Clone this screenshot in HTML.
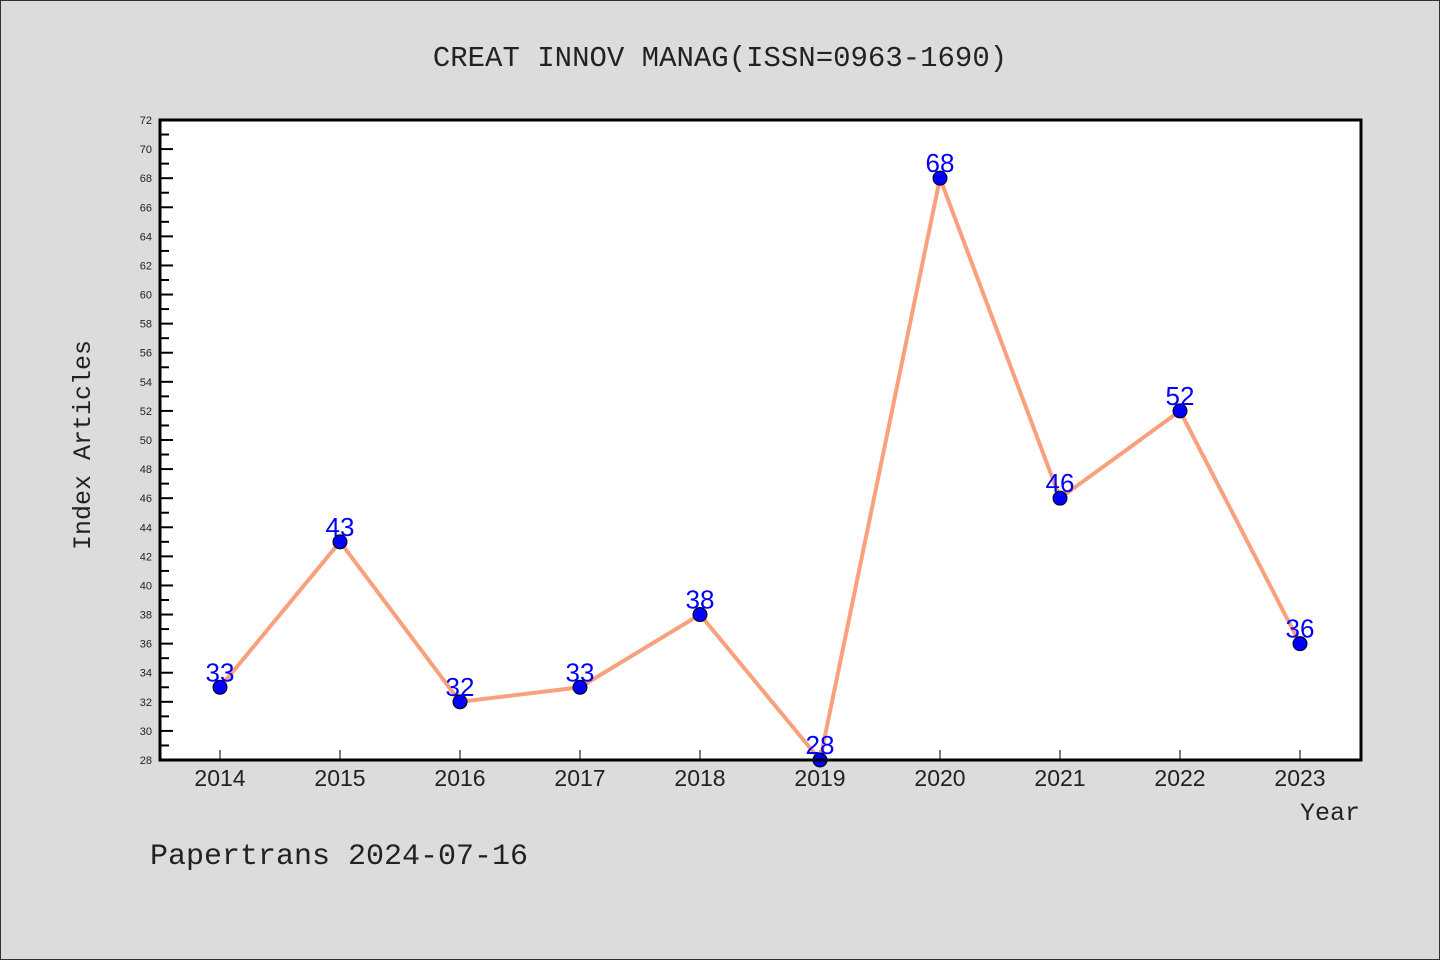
<!DOCTYPE html>
<html><head><meta charset="utf-8"><style>
html,body{margin:0;padding:0;background:#dcdcdc;}
svg{display:block;}
</style></head><body>
<svg id="chart" width="1440" height="960" xmlns="http://www.w3.org/2000/svg" font-family="'Liberation Sans','WenQuanYi Zen Hei',sans-serif">
<rect x="0.5" y="0.5" width="1439" height="959" fill="#dcdcdc" stroke="#333" stroke-width="1"/>
<text x="720" y="66" text-anchor="middle" font-family="'Liberation Mono',monospace" font-size="29" fill="#222">CREAT INNOV MANAG(ISSN=0963-1690)</text>
<rect x="160" y="120" width="1201" height="640" fill="#fff"/>
<g id="axes"></g>
<g id="series"></g>
<rect x="160" y="120" width="1201" height="640" fill="none" stroke="#000" stroke-width="3"/>
<text x="90" y="445" text-anchor="middle" transform="rotate(-90 90 445)" font-family="'Liberation Mono',monospace" font-size="25" fill="#222">Index Articles</text>
<text x="1360" y="820" text-anchor="end" font-family="'Liberation Mono',monospace" font-size="25" fill="#222">Year</text>
<text x="150" y="864" font-family="'Liberation Mono',monospace" font-size="30" fill="#222">Papertrans 2024-07-16</text>
</svg>
<script>
const years = ['2014','2015','2016','2017','2018','2019','2020','2021','2022','2023'];
const values = [33,43,32,33,38,28,68,46,52,36];
const yMin = 28, yMax = 72;
const NS='http://www.w3.org/2000/svg';
const X0=160,X1=1361,Y0=760,Y1=120;
function xs(i){return 220+i*120;}
function ys(v){return Y0-(v-yMin)/(yMax-yMin)*(Y0-Y1);}
function mk(t,a,p){const e=document.createElementNS(NS,t);for(const k in a)e.setAttribute(k,a[k]);p.appendChild(e);return e;}
const ax=document.getElementById('axes');
for(let v=yMin;v<=yMax;v++){
  const major=v%2===0;
  const t=mk('line',{x1:X0,x2:X0+(major?13:9),y1:ys(v),y2:ys(v),stroke:'#000','stroke-width':2},ax);
  
  
  if(major){
    const l=mk('text',{x:152,y:ys(v)+4,'text-anchor':'end','font-size':11,fill:'#222'},ax);
    l.textContent=v;
    
    
  }
}
years.forEach((y,i)=>{
  const t=mk('line',{x1:xs(i),x2:xs(i),y1:Y0,y2:Y0-10,stroke:'#000','stroke-width':1},ax);
  
  
  const l=mk('text',{x:xs(i),y:786,'text-anchor':'middle','font-size':23,fill:'#222'},ax);
  l.textContent=y;
  
  
});
const s=document.getElementById('series');
const line=mk('polyline',{points:values.map((v,i)=>xs(i)+','+ys(v)).join(' '),fill:'none',stroke:'#f9a07c','stroke-width':4,'stroke-linejoin':'round'},s);


values.forEach((v,i)=>{
  const c=mk('circle',{cx:xs(i),cy:ys(v),r:7,fill:'#0000ff',stroke:'#000','stroke-width':1},s);
  
  
  const l=mk('text',{x:xs(i),y:ys(v)-6,'text-anchor':'middle','font-size':26,fill:'#0000ff'},s);
  l.textContent=v;
  
  
});
</script>
</body></html>
